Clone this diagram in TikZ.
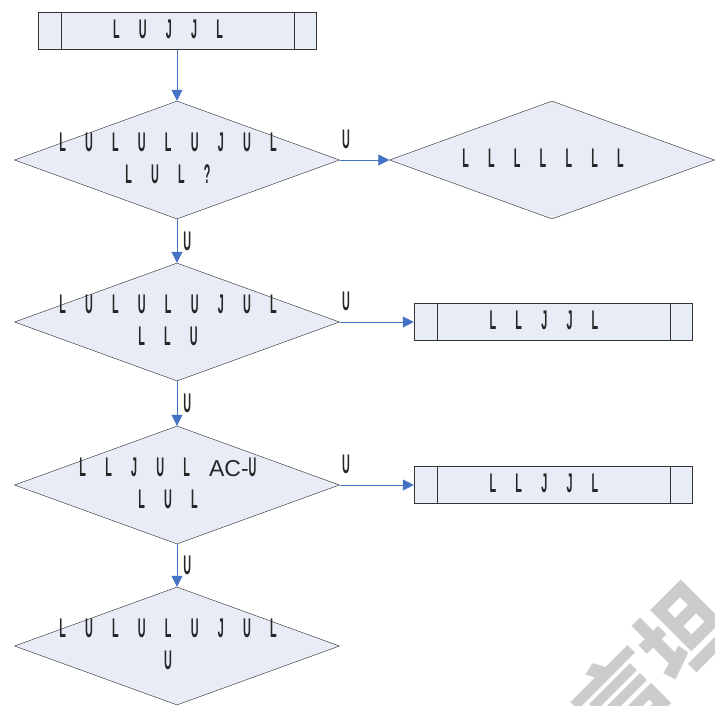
\documentclass[tikz,border=0pt]{standalone}
\usepackage{fontspec}
\usepackage{xcolor}
\usepackage{tikz}
\usetikzlibrary{arrows.meta,positioning,shapes.geometric,calc}
\setmainfont{Liberation Sans}
\newfontfamily\glyphfont[FakeStretch=0.4,WordSpace=6.4,UprightFont={* Bold}]{Liberation Sans}
\newfontfamily\cjkfont{Noto Sans CJK SC}
\definecolor{boxfill}{RGB}{232,236,247}
\definecolor{flowblue}{RGB}{68,114,196}

\begin{document}
\begin{tikzpicture}[x=1pt,y=-1pt,
  procbox/.style={draw=black!80,fill=boxfill,minimum width=278pt,minimum height=37pt,inner sep=0pt},
  decision/.style={diamond,draw=black!85,fill=boxfill,minimum width=325pt,minimum height=118pt,inner sep=0pt},
  txt/.style={font=\fontsize{27}{32}\selectfont\glyphfont,align=center,text=black!85,inner sep=0pt},
  flow/.style={draw=flowblue,line width=0.8pt,-{Triangle[length=11pt,width=11pt]}},
  yes/.style={font=\fontsize{27}{32}\selectfont\glyphfont,text=black!85,inner sep=0pt}]
\useasboundingbox (0,0) rectangle (715,705);

% watermark, cut by the page edge
\begin{scope}
\clip (0,0) rectangle (715,705);
\node[rotate=45,text=black!20,font=\fontsize{88}{88}\selectfont\cjkfont\bfseries] (mark) at (652,664) {言坦};
\end{scope}

% boxes
\node[procbox] (start) at (177,31) {};
\node[procbox] (out2) at (553,322) {};
\node[procbox] (out3) at (553,485) {};
\foreach \b in {start,out2,out3} {
    \draw[black!80] ([xshift=23pt]\b.north west) -- ([xshift=23pt]\b.south west);
    \draw[black!80] ([xshift=-22pt]\b.north east) -- ([xshift=-22pt]\b.south east);
}
\node[txt] (startlbl) at ([shift={(-9,-2)}]start.center) {L U J J L};
\node[txt] (out2lbl) at ([shift={(-9,-2)}]out2.center) {L L J J L};
\node[txt] (out3lbl) at ([shift={(-9,-2)}]out3.center) {L L J J L};

% decisions
\node[decision] (q1) at (177,160) {};
\node[decision] (side) at (552,160) {};
\node[decision] (q2) at (177,322) {};
\node[decision] (q3) at (177,485) {};
\node[decision] (q4) at (177,646) {};
\node[txt] (q1lbl) at ([shift={(-9,-2)}]q1.center) {L U L U L U J U L\\L U L ?};
\node[txt] (sidelbl) at ([shift={(-9,-2)}]side.center) {L L L L L L L};
\node[txt] (q2lbl) at ([shift={(-9,-2)}]q2.center) {L U L U L U J U L\\L L U};
\node[txt] (q3lbl) at ([shift={(-9,-2)}]q3.center) {L L J U L {\fontsize{23}{32}\selectfont\normalfont AC-}U\\L U L};
\node[txt] (q4lbl) at ([shift={(-9,-2)}]q4.center) {L U L U L U J U L\\U};

% connectors
\draw[flow] (start) -- (q1);
\draw[flow] (q1) -- node[yes,pos=0,anchor=base west,yshift=12pt,xshift=2pt] (y1) {U} (side);
\draw[flow] (q2) -- node[yes,pos=0,anchor=base west,yshift=12pt,xshift=2pt] (y2) {U} (out2);
\draw[flow] (q3) -- node[yes,pos=0,anchor=base west,yshift=12pt,xshift=2pt] (y3) {U} (out3);
\draw[flow] (q1) -- node[yes,midway,anchor=west,xshift=6pt] (n1) {U} (q2);
\draw[flow] (q2) -- node[yes,midway,anchor=west,xshift=6pt] (n2) {U} (q3);
\draw[flow] (q3) -- node[yes,midway,anchor=west,xshift=6pt] (n3) {U} (q4);
\end{tikzpicture}
\end{document}
